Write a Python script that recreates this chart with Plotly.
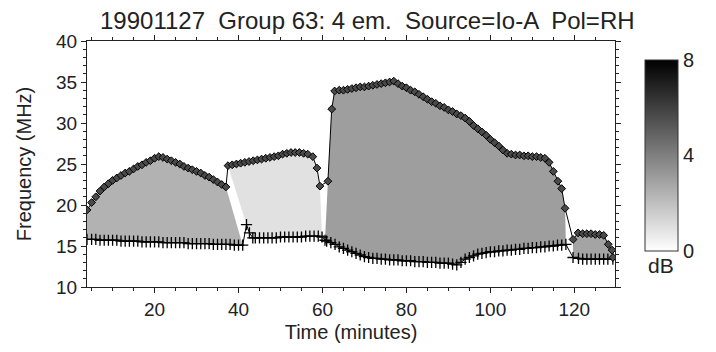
import plotly.graph_objects as go

# ---- emission boundaries (time in minutes, frequency in MHz) ----
# Emission 1
em1_up_t = [3.9, 5, 6, 7, 8, 9, 10, 11, 12, 13, 14, 15, 16, 17, 18, 19, 20, 21,
            22, 23, 24, 25, 26, 27, 28, 29, 30, 31, 32, 33, 34, 35, 36, 37]
em1_up_f = [19.4, 20.3, 21.0, 21.7, 22.2, 22.6, 23.0, 23.3, 23.6, 23.9, 24.1, 24.4,
            24.7, 24.9, 25.2, 25.4, 25.7, 25.9, 25.8, 25.6, 25.4, 25.2, 25.0, 24.7,
            24.5, 24.3, 24.1, 23.9, 23.6, 23.4, 23.1, 22.8, 22.5, 22.2]
em1_lo_t = [3.9, 5, 6, 7, 8, 9, 10, 11, 12, 13, 14, 15, 16, 17, 18, 19, 20, 21, 22,
            23, 24, 25, 26, 27, 28, 29, 30, 31, 32, 33, 34, 35, 36, 37, 38, 39, 40, 41]
em1_lo_f = [15.8, 15.8, 15.8, 15.7, 15.7, 15.7, 15.7, 15.7, 15.6, 15.6, 15.6, 15.6,
            15.6, 15.5, 15.5, 15.5, 15.5, 15.5, 15.4, 15.4, 15.4, 15.4, 15.4, 15.4,
            15.3, 15.3, 15.3, 15.3, 15.3, 15.3, 15.2, 15.2, 15.2, 15.2, 15.2, 15.1,
            15.1, 15.1]

# Emission 2
em2_up_t = [37.5, 38.5, 39.5, 40.5, 41.5, 42.5, 43.5, 44.5, 45.5, 46.5, 47.5, 48.5,
            49.5, 50.5, 51.5, 52.5, 53.5, 54.5, 55.5, 56.5, 57.7, 58.7, 59.4]
em2_up_f = [24.8, 24.9, 25.0, 25.1, 25.2, 25.3, 25.4, 25.5, 25.6, 25.7, 25.8, 25.9,
            26.0, 26.2, 26.3, 26.4, 26.4, 26.4, 26.3, 26.2, 25.9, 24.5, 22.3]
em2_lo_t = [41.9, 42.6, 43.4, 44, 45, 46, 47, 48, 49, 50, 51, 52, 53, 54, 55, 56, 57,
            58, 59, 59.9]
em2_lo_f = [17.6, 16.6, 16.0, 16.0, 16.0, 16.0, 16.0, 16.0, 16.0, 16.1, 16.1, 16.1,
            16.1, 16.1, 16.1, 16.2, 16.2, 16.2, 16.2, 16.1]

# Emission 3
em3_up_t = [61.3, 62.2, 62.9, 64, 65, 66, 67, 68, 69, 70, 71, 72, 73, 74, 75, 76, 77,
            78, 79, 80, 81, 82, 83, 84, 85, 86, 87, 88, 89, 90, 91, 92, 93, 94, 95,
            96, 97, 98, 99, 100, 101, 102, 103, 104, 105, 106, 107, 108, 109, 110,
            111, 112, 113, 114, 115, 116.1, 117, 117.8]
em3_up_f = [22.9, 31.7, 33.9, 34.0, 34.0, 34.1, 34.2, 34.3, 34.4, 34.4, 34.5, 34.6,
            34.7, 34.8, 34.9, 35.0, 35.1, 34.8, 34.5, 34.3, 34.0, 33.8, 33.5, 33.2,
            32.9, 32.6, 32.4, 32.1, 31.9, 31.6, 31.4, 31.1, 30.9, 30.6, 30.2, 29.7,
            29.3, 28.9, 28.5, 28.0, 27.6, 27.2, 26.7, 26.3, 26.2, 26.1, 26.1, 26.0,
            26.0, 25.9, 25.9, 25.8, 25.7, 25.2, 24.1, 22.9, 22.0, 19.6]
em3_lo_t = [60.6, 61, 62, 63, 64, 65, 66, 67, 68, 69, 70, 71, 72, 73, 74, 75, 76, 77,
            78, 79, 80, 81, 82, 83, 84, 85, 86, 87, 88, 89, 90, 91, 92, 93, 94, 95,
            96, 97, 98, 99, 100, 101, 102, 103, 104, 105, 106, 107, 108, 109, 110,
            111, 112, 113, 114, 115, 116, 117, 118]
em3_lo_f = [15.7, 15.6, 15.4, 15.2, 14.9, 14.7, 14.5, 14.3, 14.1, 13.9, 13.7, 13.6,
            13.5, 13.5, 13.4, 13.4, 13.3, 13.3, 13.3, 13.2, 13.2, 13.2, 13.1, 13.1,
            13.1, 13.0, 13.0, 13.0, 12.9, 12.9, 12.9, 12.8, 12.7, 13.0, 13.4, 13.6,
            13.8, 14.0, 14.1, 14.2, 14.3, 14.3, 14.4, 14.4, 14.5, 14.5, 14.6, 14.6,
            14.7, 14.7, 14.8, 14.8, 14.9, 14.9, 15.0, 15.0, 15.1, 15.1, 15.2]

# Emission 4
em4_up_t = [119.7, 120.9, 122, 123, 124, 125, 126, 127, 128.1, 129.0, 129.2]
em4_up_f = [15.8, 16.6, 16.5, 16.5, 16.5, 16.4, 16.4, 16.3, 15.2, 14.5, 13.6]
em4_lo_t = [119.7, 121, 122, 123, 124, 125, 126, 127, 128, 129.2]
em4_lo_f = [13.6, 13.5, 13.4, 13.4, 13.4, 13.4, 13.4, 13.4, 13.4, 13.4]

# mean intensity of each emission (dB)
em_db = [2.4, 0.95, 3.05, 2.85]

emissions = [
    (em1_up_t, em1_up_f, em1_lo_t, em1_lo_f),
    (em2_up_t, em2_up_f, em2_lo_t, em2_lo_f),
    (em3_up_t, em3_up_f, em3_lo_t, em3_lo_f),
    (em4_up_t, em4_up_f, em4_lo_t, em4_lo_f),
]
for ut, uf, lt, lf in emissions:
    assert len(ut) == len(uf) and len(lt) == len(lf)

DB_MAX = 8.0
FONT = "Liberation Sans, Arial, Helvetica, sans-serif"
INK = "#222"


def grey(db):
    v = int(round(255 * (1 - db / DB_MAX)))
    return f"rgb({v},{v},{v})"


fig = go.Figure()

# filled emission regions
for (ut, uf, lt, lf), db in zip(emissions, em_db):
    fig.add_trace(go.Scatter(
        x=ut + lt[::-1], y=uf + lf[::-1],
        mode="lines", fill="toself", fillcolor=grey(db),
        line=dict(width=0), hoverinfo="skip", showlegend=False))

# upper and lower frequency limits of the whole group
up_t = sum((e[0] for e in emissions), [])
up_f = sum((e[1] for e in emissions), [])
lo_t = sum((e[2] for e in emissions), [])
lo_f = sum((e[3] for e in emissions), [])

fig.add_trace(go.Scatter(
    x=lo_t, y=lo_f, mode="lines+markers",
    line=dict(color="black", width=1),
    marker=dict(symbol="cross-thin", size=8, line=dict(color="black", width=1.3)),
    showlegend=False))
fig.add_trace(go.Scatter(
    x=up_t, y=up_f, mode="lines+markers",
    line=dict(color="black", width=1),
    marker=dict(symbol="diamond", size=6, color="#4a4a4a",
                line=dict(color="black", width=1)),
    showlegend=False))

# intensity colour bar
fig.add_trace(go.Scatter(
    x=[None], y=[None], mode="markers", showlegend=False, hoverinfo="skip",
    marker=dict(
        color=[0], cmin=0, cmax=DB_MAX,
        colorscale=[[0, "white"], [1, "black"]], showscale=True,
        colorbar=dict(
            x=1.057, xanchor="left", xpad=0, ypad=0,
            y=0.536, yanchor="middle", len=0.775, lenmode="fraction",
            thickness=33, thicknessmode="pixels",
            outlinewidth=1, outlinecolor="#333",
            tickvals=[0, 4, 8], ticktext=["0", "4", "8"],
            ticks="", ticklabelposition="outside",
            tickfont=dict(family=FONT, size=20, color=INK)),
    )))

axis_common = dict(
    showline=True, linecolor=INK, linewidth=1, mirror="ticks",
    ticks="outside", ticklen=5, tickwidth=1, tickcolor=INK,
    showgrid=False, zeroline=False,
    tickfont=dict(family=FONT, size=19, color=INK),
)

fig.update_layout(
    width=716, height=352,
    margin=dict(l=87, r=101, t=41, b=62),
    paper_bgcolor="white", plot_bgcolor="white",
    xaxis=dict(range=[3.9, 129.7], tick0=0, dtick=20,
               minor=dict(dtick=5, ticklen=3, ticks="outside", tickcolor=INK),
               title=dict(text="Time (minutes)", standoff=6,
                          font=dict(family=FONT, size=20, color=INK)),
               **axis_common),
    yaxis=dict(range=[10, 40], tick0=0, dtick=5,
               minor=dict(dtick=1, ticklen=3, ticks="outside", tickcolor=INK),
               title=dict(text="Frequency (MHz)", standoff=19,
                          font=dict(family=FONT, size=20, color=INK)),
               **axis_common),
    annotations=[
        dict(text="19901127  Group 63: 4 em.  Source=Io-A  Pol=RH",
             xref="paper", yref="paper", x=0.532, y=1.0, yshift=5,
             xanchor="center", yanchor="bottom", showarrow=False,
             font=dict(family=FONT, size=24, color=INK)),
        dict(text="dB", xref="paper", yref="paper", x=1.088, y=0.086,
             xanchor="center", yanchor="middle", showarrow=False,
             font=dict(family=FONT, size=21, color=INK)),
    ],
)

fig.write_html("out.html")
